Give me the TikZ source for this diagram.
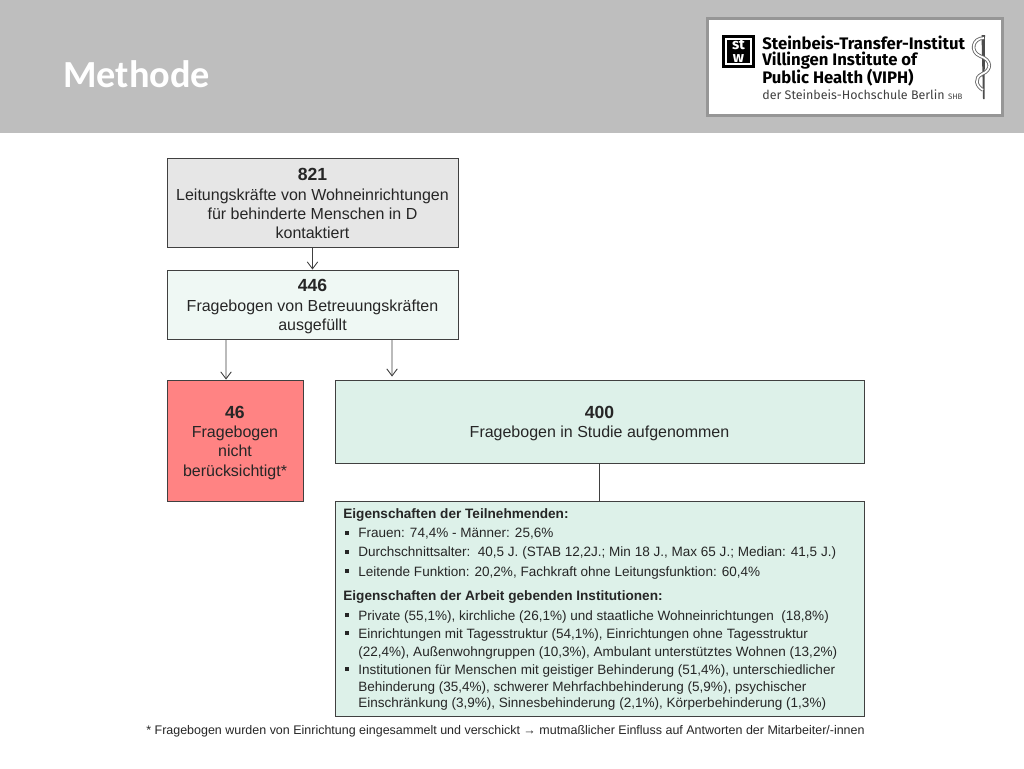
\documentclass[tikz,border=0pt]{standalone}
\usepackage{fontspec}
\setmainfont{Liberation Sans}
\newfontfamily\titlefont{Carlito}
\newfontfamily\logofont{Fira Sans}
\usetikzlibrary{positioning,arrows.meta}
\definecolor{headgrey}{HTML}{BEBEBE}
\definecolor{framegrey}{HTML}{969696}
\definecolor{boxline}{HTML}{404040}
\definecolor{boxgrey}{HTML}{E6E6E6}
\definecolor{boxpale}{HTML}{EFF8F4}
\definecolor{boxred}{HTML}{FF8383}
\definecolor{boxgreen}{HTML}{DDF1E9}
\definecolor{textgrey}{HTML}{262626}
\newcommand{\flownum}[2][9.5pt]{\rule{0pt}{#1}{\fontsize{10}{11}\selectfont\bfseries #2}}
\tikzset{
  flowbox/.style={shape=rectangle, draw=boxline, line width=0.5pt, align=center, inner sep=0pt, text=textgrey, font=\fontsize{9.1}{11}\selectfont},
  listline/.style={anchor=base west, inner sep=0pt, text=textgrey, font=\fontsize{7.7}{9}\selectfont},
  listhead/.style={listline, font=\fontsize{7.75}{9}\selectfont\bfseries},
  logoline/.style={anchor=base west, inner sep=0pt, font=\fontsize{9.5}{10}\logofont\bfseries\selectfont},
  flowarrow/.style={-{Straight Barb[length=4pt,width=6pt]}, draw=boxline, line width=0.5pt},
}
\begin{document}
\begin{tikzpicture}[x=0.02cm, y=-0.02cm]
    \useasboundingbox (0,0) rectangle (1024,768);
    % header
    \fill[white] (0,0) rectangle (1024,768);
    \fill[headgrey] (0,0) rectangle (1024,133);
    \node[anchor=base west, inner sep=0pt, text=white, font=\fontsize{21.8}{24}\titlefont\bfseries\selectfont] at (63,87) (Title) {Methode};
    % logo
    \draw[draw=framegrey, fill=white, line width=2pt] (707.5,18.5) rectangle (1002.5,115.5);
    \fill[black] (722,35) rectangle (755,68);
    \draw[white, line width=0.6pt] (726,39) rectangle (751,64);
    \node[inner sep=0pt, text=white, align=center, font=\fontsize{8.5}{7.5}\logofont\bfseries\selectfont] at (738.5,51) (LogoMark) {st\\w};
    \node[logoline] at (762,49) (Logo1) {Steinbeis-Transfer-Institut};
    \node[logoline] at (762,65) (Logo2) {Villingen Institute of};
    \node[logoline] at (762,83) (Logo3) {Public Health (VIPH)};
    \node[logoline, font=\fontsize{7.1}{8}\logofont\selectfont, text=black!75] at (762,99) (Logo4) {der Steinbeis-Hochschule Berlin \fontsize{4.5}{5}\selectfont SHB};
    \fill[black!70] (981.5,35) -- (985,35) -- (984.5,99) -- (983,99) -- cycle;
    \draw[black!60, line width=2pt] (984,38) .. controls (972,38) and (970,52) .. (980,56) .. controls (992,60) and (992,70) .. (982,74) .. controls (974,78) and (976,86) .. (983,90);
    \draw[white, line width=1pt] (984,38) .. controls (972,38) and (970,52) .. (980,56) .. controls (992,60) and (992,70) .. (982,74) .. controls (974,78) and (976,86) .. (983,90);
    % flow boxes
    \node[flowbox, fill=boxgrey, minimum width=5.82cm, minimum height=1.78cm] at (312.5,202.5) (P821) {\flownum[8.3pt]{821}\\Leitungskräfte von Wohneinrichtungen\\für behinderte Menschen in D\\kontaktiert};
    \node[flowbox, fill=boxpale, minimum width=5.82cm, minimum height=1.38cm] at (312.5,304.5) (P446) {\flownum{446}\\Fragebogen von Betreuungskräften\\ausgefüllt};
    \node[flowbox, fill=boxred, minimum width=2.72cm, minimum height=2.42cm] at (235,440.5) (P46) {\flownum{46}\\Fragebogen\\nicht\\berücksichtigt*};
    \node[flowbox, fill=boxgreen, minimum width=10.58cm, minimum height=1.66cm] at (599.5,421.5) (P400) {\flownum{400}\\Fragebogen in Studie aufgenommen};
    \node[flowbox, fill=boxgreen, minimum width=10.58cm, minimum height=4.3cm] at (599.5,609) (Details) {};
    % connectors
    \path[flowarrow] (P821) edge (P446);
    \draw[flowarrow] ([xshift=-1.73cm]P446.south) -- ([xshift=-0.18cm]P46.north);
    \draw[flowarrow] ([xshift=1.59cm]P446.south) -- ([xshift=-4.15cm, yshift=0.06cm]P400.north);
    \draw[boxline, line width=0.5pt] (P400) -- (Details);
    % detail list
    \node[listhead] at (343,518) (Head1) {Eigenschaften der Teilnehmenden:};
    \node[listline] at (358,537) (L1) {Frauen: 74,4\% - Männer: 25,6\%};
    \node[listline] at (358,556) (L2) {Durchschnittsalter:\ \ 40,5 J. (STAB 12,2J.; Min 18 J., Max 65 J.; Median: 41,5 J.)};
    \node[listline] at (358,576) (L3) {Leitende Funktion: 20,2\%, Fachkraft ohne Leitungsfunktion: 60,4\%};
    \node[listhead] at (343,600) (Head2) {Eigenschaften der Arbeit gebenden Institutionen:};
    \node[listline] at (358,620) (L4) {Private (55,1\%), kirchliche (26,1\%) und staatliche Wohneinrichtungen\ \ (18,8\%)};
    \node[listline] at (358,638) (L5) {Einrichtungen mit Tagesstruktur (54,1\%), Einrichtungen ohne Tagesstruktur};
    \node[listline] at (358,656) (L6) {(22,4\%), Außenwohngruppen (10,3\%), Ambulant unterstütztes Wohnen (13,2\%)};
    \node[listline] at (358,674) (L7) {Institutionen für Menschen mit geistiger Behinderung (51,4\%), unterschiedlicher};
    \node[listline] at (358,691) (L8) {Behinderung (35,4\%), schwerer Mehrfachbehinderung (5,9\%), psychischer};
    \node[listline] at (358,707) (L9) {Einschränkung (3,9\%), Sinnesbehinderung (2,1\%), Körperbehinderung (1,3\%)};
    \foreach \y in {533,552,571,615,633,669}
        \fill[textgrey] (345,\y-2) rectangle (349,\y+2);
    % footnote
    \node[listline, font=\fontsize{7.1}{9}\selectfont] at (146,734) (Note) {* Fragebogen wurden von Einrichtung eingesammelt und verschickt → mutmaßlicher Einfluss auf Antworten der Mitarbeiter/-innen};
\end{tikzpicture}
\end{document}
